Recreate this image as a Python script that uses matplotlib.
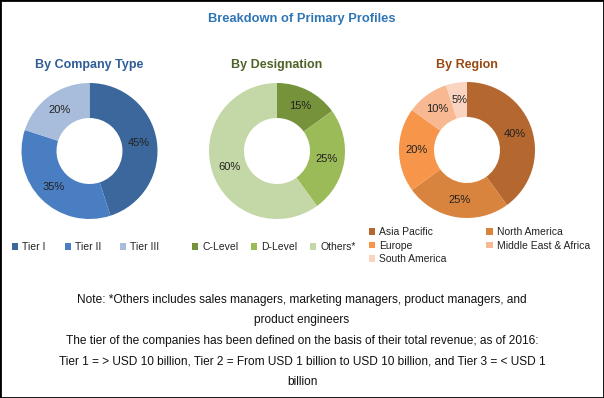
import matplotlib.pyplot as plt
from matplotlib.patches import Rectangle

plt.rcParams['font.family'] = ['Liberation Sans', 'DejaVu Sans']

W, H = 604, 398

# data
company_labels = ["Tier I", "Tier II", "Tier III"]
company_share = [45, 35, 20]
company_colors = ["#3C679C", "#4A7EC2", "#A8BCDB"]

desig_labels = ["C-Level", "D-Level", "Others*"]
desig_share = [15, 25, 60]
desig_colors = ["#76933C", "#9BBB59", "#C4D7A6"]

region_labels = ["Asia Pacific", "North America", "Europe",
                 "Middle East & Africa", "South America"]
region_share = [40, 25, 20, 10, 5]
region_colors = ["#B4672E", "#D9843E", "#F7954A", "#F8B891", "#FAD4C0"]

note_lines = [
    "Note: *Others includes sales managers, marketing managers, product managers, and",
    "product engineers",
    "The tier of the companies has been defined on the basis of their total revenue; as of 2016:",
    "Tier 1 = > USD 10 billion, Tier 2 = From USD 1 billion to USD 10 billion, and Tier 3 = < USD 1",
    "billion",
]

fig = plt.figure(figsize=(W / 100, H / 100), dpi=100)


def fx(x):
    return x / W


def fy(y):
    return 1 - y / H


def donut(cx, cy, values, colors, title, title_color):
    size = 140
    ax = fig.add_axes([fx(cx - size / 2), fy(cy + size / 2), size / W, size / H])
    wedges, _, autotexts = ax.pie(
        values, colors=colors, startangle=90, counterclock=False,
        radius=68 / 70, autopct='%d%%', pctdistance=0.74,
        wedgeprops=dict(width=0.5, edgecolor='none'),
        textprops=dict(fontsize=8, color='#222222'))
    ax.set_xlim(-1, 1)
    ax.set_ylim(-1, 1)
    ax.set_aspect('equal')
    fig.text(fx(cx), fy(65), title, ha='center', va='center',
             fontsize=9, fontweight='bold', color=title_color)
    return wedges


w1 = donut(89.5, 151, company_share, company_colors, "By Company Type", "#2F5C96")
w2 = donut(277, 151, desig_share, desig_colors, "By Designation", "#4F6228")
w3 = donut(467, 150, region_share, region_colors, "By Region", "#974A12")

fig.text(fx(302), fy(19), "Breakdown of Primary Profiles", ha='center', va='center',
         fontsize=9.3, fontweight='bold', color='#2E75B6')

leg_kw = dict(frameon=False, fontsize=7.5, handlelength=0.6, handleheight=0.6,
              handletextpad=0.4, borderpad=0, borderaxespad=0, labelcolor='#222222')

fig.legend(w1, company_labels, loc='center left', ncol=3, columnspacing=1.8,
           bbox_to_anchor=(fx(12), fy(247)), **leg_kw)
fig.legend(w2, desig_labels, loc='center left', ncol=3, columnspacing=1.2,
           bbox_to_anchor=(fx(192), fy(247)), **leg_kw)
order = [0, 2, 4, 1, 3]
fig.legend([w3[i] for i in order], [region_labels[i] for i in order],
           loc='upper left', ncol=2, columnspacing=3.8, labelspacing=0.35,
           bbox_to_anchor=(fx(369), fy(227)), **leg_kw)

for i, line in enumerate(note_lines):
    fig.text(fx(302), fy(300 + i * 20.5), line, ha='center', va='center',
             fontsize=8.6, color='#111111')

fig.patches.append(Rectangle((0, 0), 1, 1, transform=fig.transFigure,
                             fill=False, edgecolor='black', linewidth=2))

fig.savefig("out.png", dpi=100)
